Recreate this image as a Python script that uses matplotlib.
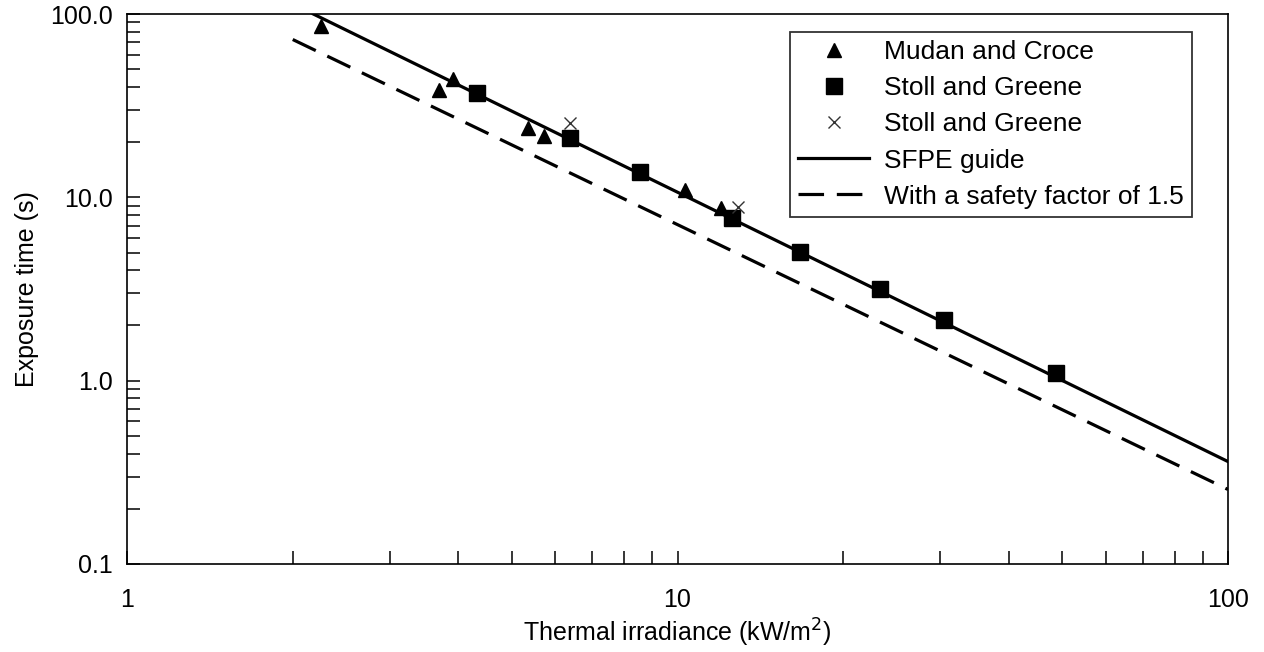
import matplotlib
matplotlib.use("Agg")
import matplotlib.pyplot as plt
from matplotlib.ticker import FixedLocator, FixedFormatter, LogLocator, NullFormatter

plt.rcParams['font.family'] = ['Liberation Sans', 'DejaVu Sans']

# Mudan and Croce (triangles)
mudan_q = [2.25, 3.69, 3.91, 5.35, 5.72, 10.3, 12.0]
mudan_t = [85.5, 38.7, 44.0, 24.0, 21.5, 10.9, 8.8]

# Stoll and Greene (squares)
stoll_q = [4.32, 6.38, 8.55, 12.56, 16.7, 23.3, 30.5, 48.7]
stoll_t = [37.3, 21.2, 13.8, 7.76, 5.06, 3.18, 2.15, 1.107]

# Stoll and Greene (crosses)
stollx_q = [6.38, 12.88]
stollx_t = [25.3, 8.9]

# SFPE guide line and safety-factor line (end points)
sfpe_q = [2.18, 100]
sfpe_t = [100, 0.362]
safe_q = [2.0, 100]
safe_t = [72.6, 0.255]

fig = plt.figure(figsize=(12.64, 6.52), dpi=100)
ax = fig.add_axes([0.1005, 0.135, 0.871, 0.8435])

ax.plot(mudan_q, mudan_t, ls='none', marker='^', color='black', ms=10,
        label='Mudan and Croce')
ax.plot(stoll_q, stoll_t, ls='none', marker='s', color='black', ms=11,
        label='Stoll and Greene')
ax.plot(stollx_q, stollx_t, ls='none', marker='x', color='#333333', ms=9,
        mew=1.0, label='Stoll and Greene')
ax.plot(sfpe_q, sfpe_t, color='black', lw=2.3, label='SFPE guide')
ax.plot(safe_q, safe_t, color='black', lw=2.3, dashes=(8, 4),
        label='With a safety factor of 1.5')

ax.set_xscale('log')
ax.set_yscale('log')
ax.set_xlim(1, 100)
ax.set_ylim(0.1, 100)

ax.xaxis.set_major_locator(FixedLocator([1, 10, 100]))
ax.xaxis.set_major_formatter(FixedFormatter(['1', '10', '100']))
ax.yaxis.set_major_locator(FixedLocator([0.1, 1, 10, 100]))
ax.yaxis.set_major_formatter(FixedFormatter(['0.1', '1.0', '10.0', '100.0']))
ax.xaxis.set_minor_locator(LogLocator(base=10, subs=range(2, 10)))
ax.yaxis.set_minor_locator(LogLocator(base=10, subs=range(2, 10)))
ax.xaxis.set_minor_formatter(NullFormatter())
ax.yaxis.set_minor_formatter(NullFormatter())

ax.tick_params(which='both', direction='in', length=9.5, width=1.1,
               top=False, right=False, labelsize=18, colors='black')
ax.tick_params(axis='x', pad=17)
ax.tick_params(axis='y', pad=10)
for s in ax.spines.values():
    s.set_linewidth(1.2)

ax.set_xlabel('Thermal irradiance (kW/m$^2$)', fontsize=18, labelpad=4)
ax.set_ylabel('Exposure time (s)', fontsize=18, labelpad=8)

leg = ax.legend(loc='upper right', bbox_to_anchor=(0.967, 0.967), fontsize=19,
                frameon=True, fancybox=False, edgecolor='black',
                handlelength=2.7, labelspacing=0.46, borderpad=0.3,
                handletextpad=0.55, borderaxespad=0)
leg.get_frame().set_linewidth(1.3)

fig.savefig('out.png', dpi=100)
